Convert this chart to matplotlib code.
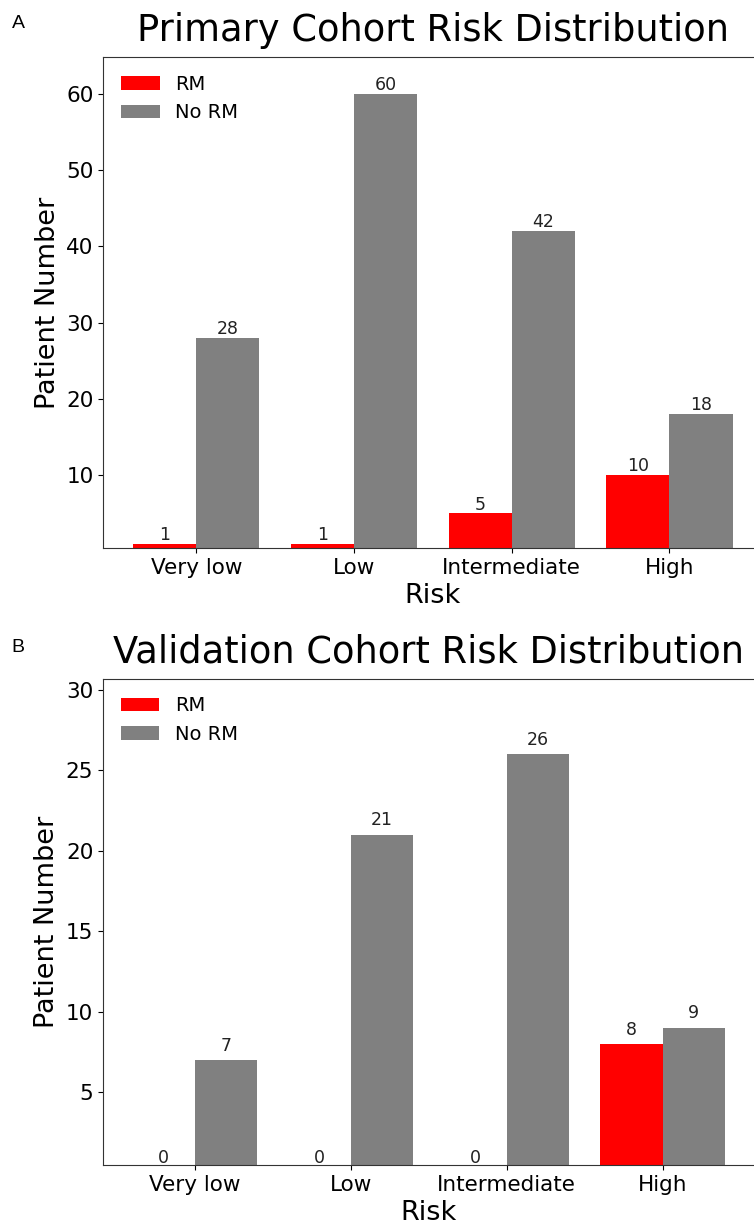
import matplotlib
matplotlib.use("Agg")
import matplotlib.pyplot as plt
import numpy as np

categories = ["Very low", "Low", "Intermediate", "High"]
primary_rm = [1, 1, 5, 10]
primary_no_rm = [28, 60, 42, 18]
validation_rm = [0, 0, 0, 8]
validation_no_rm = [7, 21, 26, 9]

RED = "#ff0000"
GRAY = "#808080"

fig = plt.figure(figsize=(7.54, 12.32), dpi=100)
W, H = 754, 1232

def px_axes(left, top, right, bottom):
    return fig.add_axes([left / W, 1 - bottom / H, (right - left) / W, (bottom - top) / H])

axA = px_axes(103.3, 57, 762.5, 548)
axB = px_axes(103, 678.7, 754.7, 1165)

def draw(ax, rm, norm, title, ylim, label_offset):
    x = np.arange(len(categories))
    w = 0.4
    b1 = ax.bar(x - w / 2, rm, w, color=RED, label="RM")
    b2 = ax.bar(x + w / 2, norm, w, color=GRAY, label="No RM")
    for bars, vals in ((b1, rm), (b2, norm)):
        for bar, v in zip(bars, vals):
            ax.annotate(str(v), (bar.get_x() + bar.get_width() / 2, v),
                        xytext=(0, label_offset), textcoords="offset points",
                        ha="center", va="baseline", fontsize=12.5, color="#222222",
                        annotation_clip=False)
    ax.set_xticks(x)
    ax.set_xticklabels(categories, fontsize=15.5)
    ax.tick_params(axis="y", labelsize=15.5)
    ax.set_ylim(*ylim)
    ax.set_xlim(-0.59, 3.59)
    ax.set_xlabel("Risk", fontsize=19.5)
    ax.set_ylabel("Patient Number", fontsize=19.5)
    ax.set_title(title, fontsize=26.5, pad=11.5)
    ax.legend(loc="upper left", frameon=False, fontsize=14)
    for s in ax.spines.values():
        s.set_color("#333333")

draw(axA, primary_rm, primary_no_rm, "Primary Cohort Risk Distribution", (0.45, 64.8), 2.7)
draw(axB, validation_rm, validation_no_rm, "Validation Cohort Risk Distribution", (0.48, 30.7), 6.8)

fig.text(11.7 / W, 1 - 28 / H, "A", fontsize=14, family="Liberation Sans", va="baseline")
fig.text(11.7 / W, 1 - 651.7 / H, "B", fontsize=14, family="Liberation Sans", va="baseline")

fig.savefig("out.png", dpi=100)
